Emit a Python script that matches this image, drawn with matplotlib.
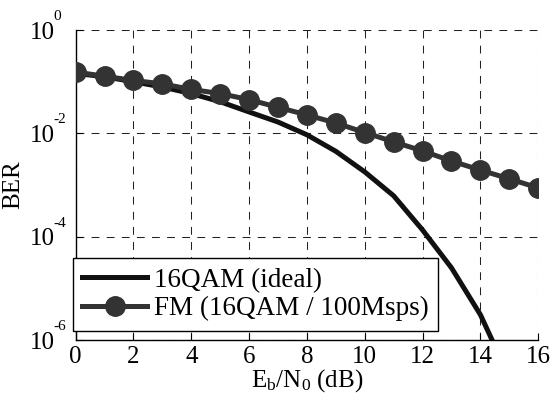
import matplotlib
matplotlib.use('Agg')
import matplotlib.pyplot as plt

# Eb/N0 points (dB)
ebn0 = [0, 1, 2, 3, 4, 5, 6, 7, 8, 9, 10, 11, 12, 13, 14, 15, 16]

# ideal 16QAM curve
ber_ideal = [0.145, 0.125, 0.10, 0.079, 0.059, 0.041, 0.026, 0.0166, 0.0094,
             0.0045, 0.0018, 6.2e-4, 1.35e-4, 2.5e-5, 3.1e-6, 1.9e-7, 8e-9]

# FM measurement
ber_fm = [0.154, 0.128, 0.106, 0.091, 0.071, 0.059, 0.045, 0.032, 0.0228,
          0.0159, 0.0104, 0.00686, 0.00458, 0.00292, 0.00195, 0.00132, 0.00088]

labels = ['16QAM (ideal)', 'FM (16QAM / 100Msps)']
xticks = [0, 2, 4, 6, 8, 10, 12, 14, 16]
ydecades = [-6, -4, -2, 0]

plt.rcParams['font.family'] = ['Liberation Serif', 'DejaVu Serif']
plt.rcParams['mathtext.fontset'] = 'custom'
plt.rcParams['mathtext.rm'] = 'Liberation Serif'
plt.rcParams['mathtext.it'] = 'Liberation Serif:italic'

fig = plt.figure(figsize=(5.52, 4.01), dpi=100)
ax = fig.add_axes([0.137, 0.152, 0.838, 0.773])

ax.semilogy(ebn0, ber_ideal, color='#111111', lw=3.6, label=labels[0], zorder=3)
ax.semilogy(ebn0, ber_fm, color='#333333', lw=3.6, marker='o', ms=14,
            label=labels[1], zorder=4)

ax.set_xlim(0, 16)
ax.set_ylim(1e-6, 1)
ax.set_xticks(xticks)
ax.set_xticklabels([str(t) for t in xticks])
ax.set_yticks([10.0 ** e for e in ydecades])
ax.set_yticklabels(['10'] * len(ydecades))
ax.yaxis.set_minor_locator(matplotlib.ticker.NullLocator())
ax.tick_params(direction='in', labelsize=18, length=5, width=0.8)
ax.tick_params(axis='y', pad=15)
ax.tick_params(axis='x', pad=4)

# MATLAB-like small exponents next to the "10"
for e in ydecades:
    ax.annotate(str(e), xy=(0, 10.0 ** e), xycoords=('axes fraction', 'data'),
                xytext=(-16, 5), textcoords='offset points',
                ha='left', va='bottom', fontsize=11, annotation_clip=False)

for s in ['top', 'right']:
    ax.spines[s].set_visible(False)
for s in ['left', 'bottom']:
    ax.spines[s].set_linewidth(1.0)

ax.grid(True, color='#222222', linestyle=(0, (7.5, 7)), linewidth=0.75)
ax.set_axisbelow(True)

ax.set_xlabel(r'E$_\mathregular{b}$/N$_\mathregular{0}$ (dB)', fontsize=18, labelpad=0)
ax.set_ylabel('BER', fontsize=18, labelpad=4)

leg = ax.legend(loc='lower left', bbox_to_anchor=(-0.006, 0.03), borderaxespad=0,
                fancybox=False, edgecolor='black', framealpha=1, fontsize=19.5,
                handlelength=2.4, handletextpad=0.25, borderpad=0.35,
                labelspacing=0.12)
leg.get_frame().set_linewidth(1.0)
leg.set_zorder(10)

fig.savefig('out.png', dpi=100)
